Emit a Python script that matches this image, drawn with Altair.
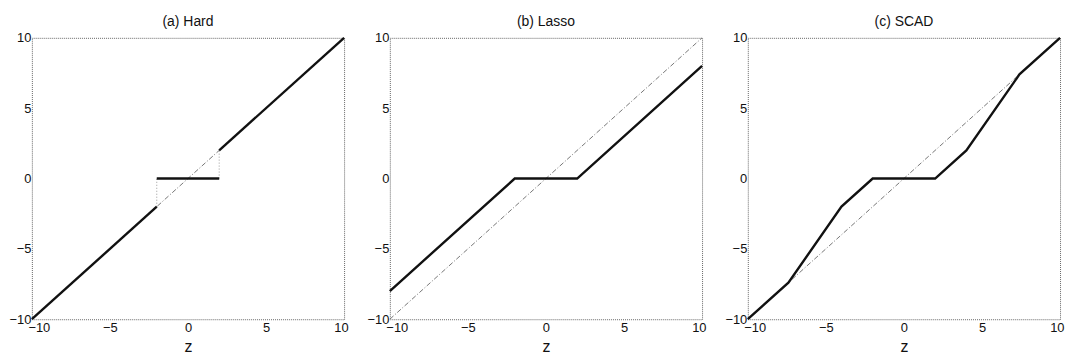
import altair as alt
import pandas as pd

# ---- data ----
titles = ["(a) Hard", "(b) Lasso", "(c) SCAD"]

diag_z = [-10, 10]
diag_y = [-10, 10]

hard_z = [-10, -2, -2, 2, 2, 10]
hard_y = [-10, -2, 0, 0, 2, 10]
hard_seg = [0, 0, 1, 1, 2, 2]

hard_jump_z = [-2, -2, 2, 2]
hard_jump_y = [-2, 0, 0, 2]
hard_jump_seg = [0, 0, 1, 1]

lasso_z = [-10, -2, 2, 10]
lasso_y = [-8, 0, 0, 8]

scad_z = [-10, -7.4, -4, -2, 2, 4, 7.4, 10]
scad_y = [-10, -7.4, -2, 0, 0, 2, 7.4, 10]

tick_vals = [-10, -5, 0, 5, 10]

FONT = "Liberation Sans"
W, H = 314, 283

xscale = alt.Scale(domain=[-10, 10], nice=False, zero=False)
yscale = alt.Scale(domain=[-10, 10], nice=False, zero=False)

def xenc():
    return alt.X("z:Q", scale=xscale,
                 axis=alt.Axis(values=tick_vals, title="z", grid=False, domain=False,
                               ticks=False, labelPadding=2, labelFontSize=13,
                               labelFlush=True, labelFlushOffset=4,
                               titleFontSize=16, titleFontWeight="normal",
                               titlePadding=4, labelFont=FONT, titleFont=FONT,
                               labelColor="#111", titleColor="#111"))

def yenc():
    return alt.Y("y:Q", scale=yscale,
                 axis=alt.Axis(values=tick_vals, title=None, grid=False, domain=False,
                               ticks=False, labelPadding=1, labelFontSize=13,
                               labelFont=FONT, labelColor="#111"))

def diag_layer():
    df = pd.DataFrame({"z": diag_z, "y": diag_y})
    return alt.Chart(df).mark_line(color="#777", strokeWidth=1,
                                   strokeDash=[5, 2, 1, 2]).encode(x=xenc(), y=yenc())

def thick(df, detail=None):
    enc = dict(x=xenc(), y=yenc(), order="order:Q")
    if detail:
        enc["detail"] = detail
    return alt.Chart(df).mark_line(color="#111", strokeWidth=2.4).encode(**enc)

def panel(layers, title):
    return alt.layer(*layers).properties(
        width=W, height=H,
        title=alt.TitleParams(title, fontSize=14, fontWeight="normal", font=FONT,
                              color="#111", offset=3))

hard_df = pd.DataFrame({"z": hard_z, "y": hard_y, "seg": hard_seg,
                        "order": list(range(len(hard_z)))})
jump_df = pd.DataFrame({"z": hard_jump_z, "y": hard_jump_y, "seg": hard_jump_seg,
                        "order": list(range(len(hard_jump_z)))})
jump = alt.Chart(jump_df).mark_line(color="#999", strokeWidth=1,
                                    strokeDash=[1, 2]).encode(
    x=xenc(), y=yenc(), detail="seg:N", order="order:Q")

pa = panel([diag_layer(), jump, thick(hard_df, "seg:N")], titles[0])

lasso_df = pd.DataFrame({"z": lasso_z, "y": lasso_y, "order": list(range(len(lasso_z)))})
pb = panel([diag_layer(), thick(lasso_df)], titles[1])

scad_df = pd.DataFrame({"z": scad_z, "y": scad_y, "order": list(range(len(scad_z)))})
pc = panel([diag_layer(), thick(scad_df)], titles[2])

chart = alt.hconcat(pa, pb, pc, spacing=16).configure_view(
    stroke="#666", strokeWidth=1, strokeDash=[1, 1]
).properties(padding={"left": 0, "top": 5, "right": 0, "bottom": 0},
             background="white")

chart.save("out.html", embed_options={"renderer": "svg", "actions": False})
